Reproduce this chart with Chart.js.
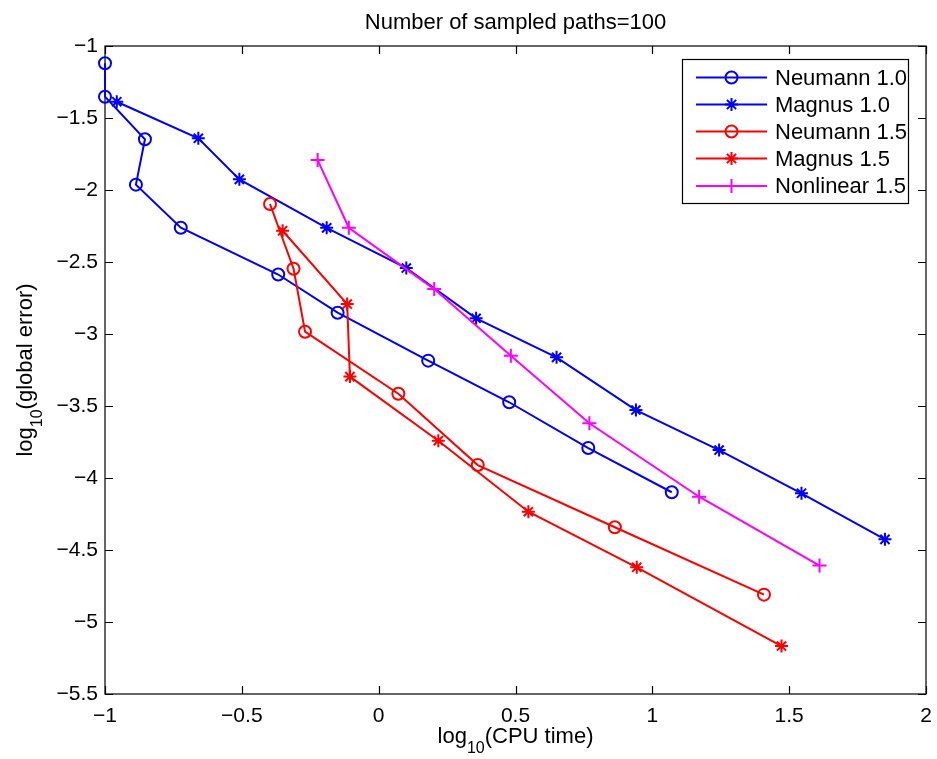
<!DOCTYPE html>
<html><head><meta charset="utf-8">
<script src="https://cdn.jsdelivr.net/npm/chart.js@4.4.1/dist/chart.umd.min.js"></script>
<style>html,body{margin:0;padding:0;background:#fff;} canvas{display:block}</style>
</head><body>
<canvas id="c" width="937" height="759"></canvas>
<script>
const titleText = 'Number of sampled paths=100';
const xTitleParts = ['log', '10', '(CPU time)'];
const yTitleParts = ['log', '10', '(global error)'];
const seriesLabels = ['Neumann 1.0', 'Magnus 1.0', 'Neumann 1.5', 'Magnus 1.5', 'Nonlinear 1.5'];
const seriesColors = ['#0000ff', '#0000ff', '#ff0000', '#ff0000', '#ff00ff'];
const seriesMarkers = ['circle', 'star', 'circle', 'star', 'cross'];

const neumann10X = [-1.000, -1.000, -0.854, -0.887, -0.723, -0.367, -0.150, 0.181, 0.477, 0.766, 1.071];
const neumann10Y = [-1.120, -1.352, -1.648, -1.963, -2.262, -2.587, -2.852, -3.185, -3.474, -3.792, -4.099];
const magnus10X = [-0.957, -0.659, -0.509, -0.190, 0.101, 0.356, 0.650, 0.940, 1.244, 1.545, 1.850];
const magnus10Y = [-1.387, -1.641, -1.926, -2.263, -2.542, -2.891, -3.162, -3.528, -3.806, -4.106, -4.426];
const neumann15X = [-0.397, -0.311, -0.269, 0.072, 0.362, 0.863, 1.408];
const neumann15Y = [-2.097, -2.547, -2.984, -3.415, -3.910, -4.342, -4.810];
const magnus15X = [-0.351, -0.115, -0.105, 0.218, 0.547, 0.943, 1.472];
const magnus15Y = [-2.283, -2.792, -3.296, -3.741, -4.234, -4.620, -5.167];
const nonlinear15X = [-0.223, -0.109, 0.203, 0.483, 0.770, 1.171, 1.611];
const nonlinear15Y = [-1.792, -2.262, -2.688, -3.151, -3.620, -4.130, -4.608];

const xTicks = [-1, -0.5, 0, 0.5, 1, 1.5, 2];
const yTicks = [-5.5, -5, -4.5, -4, -3.5, -3, -2.5, -2, -1.5, -1];

const seriesX = [neumann10X, magnus10X, neumann15X, magnus15X, nonlinear15X];
const seriesY = [neumann10Y, magnus10Y, neumann15Y, magnus15Y, nonlinear15Y];

const FONT = '"Liberation Sans", Arial, Helvetica, sans-serif';
const fmt = v => String(v).replace('-', '\u2212');

function markerRadius(m) { return m === 'circle' ? 6 : (m === 'star' ? 6.5 : 7); }

function drawMarker(ctx, m, x, y, color) {
  const r = markerRadius(m);
  ctx.save();
  ctx.strokeStyle = color; ctx.lineWidth = 2;
  ctx.beginPath();
  if (m === 'circle') {
    ctx.arc(x, y, r, 0, Math.PI * 2);
  } else if (m === 'cross') {
    ctx.moveTo(x - r, y); ctx.lineTo(x + r, y);
    ctx.moveTo(x, y - r); ctx.lineTo(x, y + r);
  } else {
    for (let k = 0; k < 4; k++) {
      const a = k * Math.PI / 4;
      ctx.moveTo(x - r * Math.cos(a), y - r * Math.sin(a));
      ctx.lineTo(x + r * Math.cos(a), y + r * Math.sin(a));
    }
  }
  ctx.stroke();
  ctx.restore();
}

const datasets = seriesLabels.map((lab, i) => ({
  label: lab,
  data: seriesX[i].map((x, j) => ({ x: x, y: seriesY[i][j] })),
  showLine: true,
  borderColor: seriesColors[i],
  backgroundColor: 'rgba(0,0,0,0)',
  borderWidth: 2,
  pointStyle: seriesMarkers[i],
  pointRadius: markerRadius(seriesMarkers[i]),
  pointBorderColor: seriesColors[i],
  pointBackgroundColor: 'rgba(0,0,0,0)',
  pointBorderWidth: 2,
  pointHoverRadius: markerRadius(seriesMarkers[i]),
  clip: false,
  order: seriesLabels.length - i,
  tension: 0
}));

const framePlugin = {
  id: 'frame',
  beforeDatasetsDraw(chart) {
    const { ctx, chartArea: a, scales } = chart;
    ctx.save();
    ctx.strokeStyle = '#000'; ctx.lineWidth = 1.2;
    ctx.strokeRect(a.left, a.top, a.right - a.left, a.bottom - a.top);
    ctx.beginPath();
    const tl = 8;
    xTicks.forEach(v => {
      const px = Math.round(scales.x.getPixelForValue(v)) + 0.5;
      ctx.moveTo(px, a.bottom); ctx.lineTo(px, a.bottom - tl);
      ctx.moveTo(px, a.top); ctx.lineTo(px, a.top + tl);
    });
    yTicks.forEach(v => {
      const py = Math.round(scales.y.getPixelForValue(v)) + 0.5;
      ctx.moveTo(a.left, py); ctx.lineTo(a.left + tl, py);
      ctx.moveTo(a.right, py); ctx.lineTo(a.right - tl, py);
    });
    ctx.stroke();
    ctx.restore();
  },
  afterDraw(chart) {
    const { ctx, chartArea: a } = chart;
    ctx.save();
    ctx.fillStyle = '#000';
    ctx.font = '22px ' + FONT;
    ctx.textAlign = 'center'; ctx.textBaseline = 'alphabetic';
    ctx.fillText(titleText, (a.left + a.right) / 2, 29);
    const mainF = '22px ' + FONT, subF = '16px ' + FONT;
    function drawSubTitle(parts, cx, baseY) {
      ctx.font = mainF; const w0 = ctx.measureText(parts[0]).width; const w2 = ctx.measureText(parts[2]).width;
      ctx.font = subF; const w1 = ctx.measureText(parts[1]).width;
      const total = w0 + w1 + w2;
      let x = cx - total / 2;
      ctx.textAlign = 'left';
      ctx.font = mainF; ctx.fillText(parts[0], x, baseY); x += w0;
      ctx.font = subF; ctx.fillText(parts[1], x, baseY + 10); x += w1;
      ctx.font = mainF; ctx.fillText(parts[2], x, baseY);
    }
    drawSubTitle(xTitleParts, (a.left + a.right) / 2, 743);
    ctx.save();
    ctx.translate(32, (a.top + a.bottom) / 2);
    ctx.rotate(-Math.PI / 2);
    drawSubTitle(yTitleParts, 0, 0);
    ctx.restore();
    const lx = 682, ly = 59, lw = 226, lh = 144;
    ctx.fillStyle = '#fff';
    ctx.fillRect(lx, ly, lw, lh);
    ctx.strokeStyle = '#000'; ctx.lineWidth = 1.2;
    ctx.strokeRect(lx + 0.5, ly + 0.5, lw, lh);
    const rows = [77.5, 104.5, 131.5, 158.5, 186];
    seriesLabels.forEach((lab, i) => {
      const y = rows[i];
      ctx.strokeStyle = seriesColors[i]; ctx.lineWidth = 2;
      ctx.beginPath(); ctx.moveTo(696, y); ctx.lineTo(767, y); ctx.stroke();
      drawMarker(ctx, seriesMarkers[i], 731.5, y, seriesColors[i]);
      ctx.fillStyle = '#000';
      ctx.font = '22px ' + FONT;
      ctx.textAlign = 'left'; ctx.textBaseline = 'middle';
      ctx.fillText(lab, 775, y + 1);
    });
    ctx.restore();
  }
};

new Chart(document.getElementById('c'), {
  type: 'scatter',
  data: { datasets: datasets },
  options: {
    responsive: false,
    animation: false,
    devicePixelRatio: 1,
    layout: { padding: { top: 46, right: 11, left: 0, bottom: 0 } },
    plugins: { legend: { display: false }, title: { display: false }, tooltip: { enabled: false } },
    elements: { line: { tension: 0 } },
    scales: {
      x: {
        type: 'linear', min: -1, max: 2,
        afterBuildTicks: s => { s.ticks = xTicks.map(v => ({ value: v })); },
        afterFit: s => { s.height = 65; s.paddingLeft = 0; s.paddingRight = 0; },
        grid: { display: false, drawTicks: false },
        border: { display: false },
        ticks: { color: '#000', font: { family: FONT, size: 21 }, padding: 10, callback: v => fmt(v), maxRotation: 0 }
      },
      y: {
        type: 'linear', min: -5.5, max: -1,
        afterBuildTicks: s => { s.ticks = yTicks.map(v => ({ value: v })); },
        afterFit: s => { s.width = 105; s.paddingTop = 0; s.paddingBottom = 0; },
        grid: { display: false, drawTicks: false },
        border: { display: false },
        ticks: { color: '#000', font: { family: FONT, size: 21 }, padding: 7, callback: v => fmt(v) }
      }
    }
  },
  plugins: [framePlugin]
});
</script>
</body></html>
